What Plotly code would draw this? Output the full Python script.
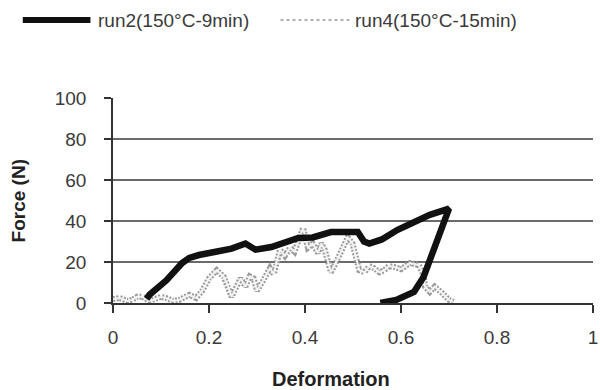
import plotly.graph_objects as go

# ---- data ----
run2_x = [0.07, 0.076, 0.111, 0.144, 0.159, 0.179, 0.214, 0.247, 0.276, 0.297, 0.33, 0.386,
          0.416, 0.454, 0.51, 0.523, 0.534, 0.56, 0.592, 0.62, 0.66, 0.70,
          0.678, 0.654, 0.647, 0.627, 0.59, 0.557]
run2_y = [2, 4, 11, 19.5, 22, 23.4, 25, 26.5, 29, 26, 27.3, 31.7,
          32, 34.6, 34.6, 30, 29, 31, 35.6, 38.5, 43, 46,
          31.7, 17, 12.7, 5.4, 1.5, 0]

run4_x = [0.0, 0.014, 0.03, 0.04, 0.05, 0.062, 0.075, 0.083, 0.1, 0.111, 0.125, 0.138,
          0.15, 0.159, 0.173, 0.186, 0.2, 0.216, 0.231, 0.24, 0.247, 0.255, 0.266, 0.276,
          0.285, 0.293, 0.3, 0.313, 0.327, 0.335, 0.34, 0.348, 0.358, 0.369, 0.378, 0.386,
          0.396, 0.406, 0.416, 0.427, 0.434, 0.441, 0.448, 0.454, 0.464, 0.474, 0.482, 0.489,
          0.499, 0.505, 0.513, 0.524, 0.534, 0.544, 0.555, 0.565, 0.575, 0.585, 0.6, 0.619,
          0.637, 0.647, 0.65, 0.66, 0.67, 0.685, 0.70, 0.709]
run4_y = [2, 2.4, 1, 1.5, 3, 3, 1, 1.5, 3, 2.4, 1, 1.5,
          3, 4, 2.4, 6, 12, 16, 12.7, 8, 3, 7, 12, 8,
          13, 12, 6, 11, 17, 14, 19.5, 26, 23, 27, 25, 30,
          36.6, 27, 29, 24.4, 29, 26, 20, 15, 19.5, 24.4, 28, 32,
          29, 23.4, 16, 15, 18, 17, 15, 16, 18, 17.6, 16.5, 19.5,
          18.5, 13.7, 8, 5.4, 8, 5, 1.5, 0.5]

series_names = ["run2(150°C-9min)", "run4(150°C-15min)"]
x_ticks = [0, 0.2, 0.4, 0.6, 0.8, 1]
x_tick_labels = ["0", "0.2", "0.4", "0.6", "0.8", "1"]
y_ticks = [0, 20, 40, 60, 80, 100]

FONT = "Liberation Sans, Arial, sans-serif"
TXT = "#3a3a3a"
RUN2_STYLE = dict(color="#111111", width=6.5)
RUN4_OUTER = dict(color="#9a9a9a", width=6, dash="2px,1.5px")
RUN4_INNER = dict(color="#f2f2f2", width=2)

fig = go.Figure()
# run4: a speckled grey band (dotted outline with pale core)
fig.add_trace(go.Scatter(x=run4_x, y=run4_y, mode="lines", name=series_names[1],
                         line=RUN4_OUTER, showlegend=False, hoverinfo="skip"))
fig.add_trace(go.Scatter(x=run4_x, y=run4_y, mode="lines", name=series_names[1],
                         line=RUN4_INNER, showlegend=False))
fig.add_trace(go.Scatter(x=run2_x, y=run2_y, mode="lines", name=series_names[0],
                         line=RUN2_STYLE, showlegend=False))

# legend drawn as swatches + text above the plot
legend_y = 1.38
shapes = [
    dict(type="line", xref="paper", yref="paper", x0=-0.188, x1=-0.047, y0=legend_y, y1=legend_y,
         line=dict(color=RUN2_STYLE["color"], width=6)),
    dict(type="line", xref="paper", yref="paper", x0=0.349, x1=0.499, y0=legend_y, y1=legend_y,
         line=dict(color="#b0b0b0", width=2, dash="dot")),
]
annotations = [
    dict(text=series_names[0], xref="paper", yref="paper", x=-0.035, y=legend_y,
         xanchor="left", yanchor="middle", showarrow=False, font=dict(size=19, color=TXT)),
    dict(text=series_names[1], xref="paper", yref="paper", x=0.501, y=legend_y,
         xanchor="left", yanchor="middle", showarrow=False, font=dict(size=19, color=TXT)),
    dict(text="<b>Deformation</b>", xref="paper", yref="paper", x=0.454, y=-0.37,
         xanchor="center", yanchor="middle", showarrow=False, font=dict(size=20, color="#222222")),
    dict(text="<b>Force (N)</b>", xref="paper", yref="paper", x=-0.196, y=0.5, textangle=-90,
         xanchor="center", yanchor="middle", showarrow=False, font=dict(size=19, color="#222222")),
]

fig.update_layout(
    width=600, height=390,
    margin=dict(l=113, r=2, t=98, b=87),
    paper_bgcolor="white", plot_bgcolor="white",
    font=dict(family=FONT, size=19, color=TXT),
    showlegend=False,
    xaxis=dict(range=[0, 1], tickvals=x_ticks, ticktext=x_tick_labels,
               showgrid=False, zeroline=False, showline=True, linecolor="#333333", linewidth=1.5,
               ticks="outside", ticklen=8, tickcolor="#333333", tickwidth=1.5,
               ticklabelstandoff=8, ticklabeloverflow="allow",
               tickfont=dict(size=19, color=TXT)),
    yaxis=dict(range=[0, 100], tickvals=y_ticks, showgrid=True, gridcolor="#6a6a6a", gridwidth=1.6,
               zeroline=False, showline=True, linecolor="#333333", linewidth=1.5,
               ticks="outside", ticklen=7, tickcolor="#333333", tickwidth=1.5,
               ticklabelstandoff=14, tickfont=dict(size=19, color=TXT)),
    shapes=shapes,
    annotations=annotations,
)

fig.write_html("out.html")
